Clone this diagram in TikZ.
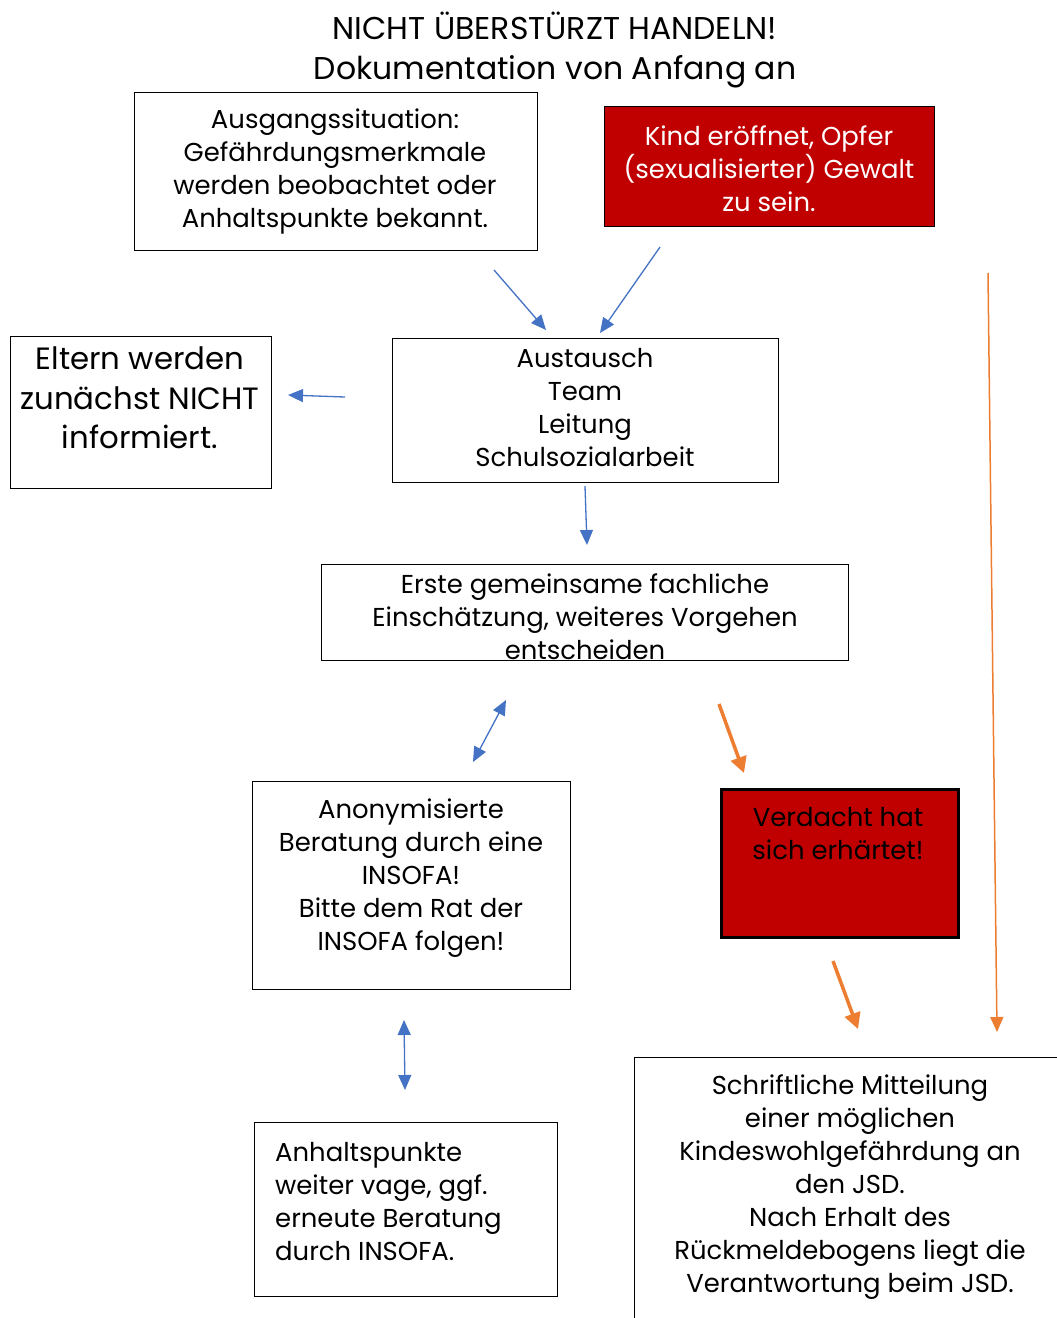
\documentclass[tikz,border=0pt]{standalone}
\usepackage{fontspec}
\setmainfont{Poppins}
\usetikzlibrary{arrows.meta}
\definecolor{myred}{HTML}{C00000}
\definecolor{myblue}{HTML}{4472C4}
\definecolor{myorange}{HTML}{ED7D31}
\tikzset{
  box/.style={draw=black, line width=1.3pt, anchor=north west, inner sep=0pt},
  txt/.style={align=center, inner sep=0pt, font=\fontsize{25.9}{33}\selectfont},
  bluearr/.style={draw=myblue, line width=1.3pt, -{Triangle[length=15pt,width=13pt]}},
  bluedbl/.style={draw=myblue, line width=1.3pt, {Triangle[length=15pt,width=13pt]}-{Triangle[length=15pt,width=13pt]}},
  orangethick/.style={draw=myorange, line width=3.5pt, -{Triangle[length=16pt,width=16pt]}},
  orangethin/.style={draw=myorange, line width=1.5pt, -{Triangle[length=15pt,width=13pt]}},
}
\begin{document}
\begin{tikzpicture}[x=1pt,y=-1pt]
\clip (0,0) rectangle (1057,1318);
\fill[white] (0,0) rectangle (1057,1318);

% title
\node[txt, font=\fontsize{31.5}{40}\selectfont] (title) at (555,50) {NICHT ÜBERSTÜRZT HANDELN!\\Dokumentation von Anfang an};

% boxes
\node[box, minimum width=403pt, minimum height=158pt] (ausg) at (134,92) {};
\node[txt] (ausgt) at (335,172) {Ausgangssituation:\\Gefährdungsmerkmale\\werden beobachtet oder\\Anhaltspunkte bekannt.};

\node[box, fill=myred, minimum width=330pt, minimum height=120pt] (kind) at (604,106) {};
\node[txt, text=white] (kindt) at (769,169) {Kind eröffnet, Opfer\\(sexualisierter) Gewalt\\zu sein.};

\node[box, minimum width=261pt, minimum height=152pt] (eltern) at (10,336) {};
\node[txt, font=\fontsize{30.8}{39.5}\selectfont] (elternt) at (140,398) {Eltern werden\\zunächst NICHT\\informiert.};

\node[box, minimum width=386pt, minimum height=144pt] (aust) at (392,338) {};
\node[txt] (austt) at (585,408) {Austausch\\Team\\Leitung\\Schulsozialarbeit};

\node[box, minimum width=527pt, minimum height=96pt] (erste) at (321,564) {};
\node[txt] (erstet) at (585,617) {Erste gemeinsame fachliche\\Einschätzung, weiteres Vorgehen\\entscheiden};

\node[box, minimum width=318pt, minimum height=208pt] (anon) at (252,781) {};
\node[txt] (anont) at (411,878) {Anonymisierte\\Beratung durch eine\\INSOFA!\\Bitte dem Rat der\\INSOFA folgen!};

\node[box, fill=myred, line width=3pt, minimum width=237pt, minimum height=148pt] (verd) at (719.5,787.5) {};
\node[txt] (verdt) at (838,834) {Verdacht hat\\sich erhärtet!};

\node[box, minimum width=303pt, minimum height=174pt] (anh) at (254,1122) {};
\node[txt, align=left, anchor=west] (anht) at (275,1202) {Anhaltspunkte\\weiter vage, ggf.\\erneute Beratung\\durch INSOFA.};

\node[box, minimum width=440pt, minimum height=300pt] (schr) at (634,1057) {};
\node[txt] (schrt) at (850,1187) {Schriftliche Mitteilung\\einer möglichen\\Kindeswohlgefährdung an\\den JSD.\\Nach Erhalt des\\Rückmeldebogens liegt die\\Verantwortung beim JSD.};

% arrow endpoints
\coordinate (a1s) at (494,270); \coordinate (a1e) at (546,330);
\coordinate (a2s) at (660,247); \coordinate (a2e) at (600,333);
\coordinate (a3s) at (345,397); \coordinate (a3e) at (288,395);
\coordinate (a4s) at (585,486); \coordinate (a4e) at (587,545);
\coordinate (a5s) at (473,762); \coordinate (a5e) at (506,700);
\coordinate (a6s) at (719,704); \coordinate (a6e) at (744,773);
\coordinate (a7s) at (404,1020); \coordinate (a7e) at (405,1090);
\coordinate (a8s) at (833,961); \coordinate (a8e) at (858,1029);
\coordinate (a9s) at (988,273); \coordinate (a9e) at (997,1032);

\draw[bluearr] (a1s) -- (a1e);
\draw[bluearr] (a2s) -- (a2e);
\draw[bluearr] (a3s) -- (a3e);
\draw[bluearr] (a4s) -- (a4e);
\draw[bluedbl] (a5s) -- (a5e);
\draw[orangethick] (a6s) -- (a6e);
\draw[bluedbl] (a7s) -- (a7e);
\draw[orangethick] (a8s) -- (a8e);
\draw[orangethin] (a9s) -- (a9e);
\end{tikzpicture}
\end{document}
